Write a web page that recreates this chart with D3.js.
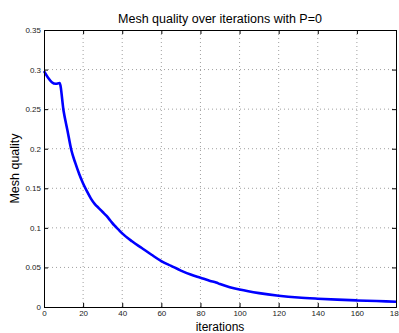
<!DOCTYPE html>
<html>
<head>
<meta charset="utf-8">
<script src="https://cdn.jsdelivr.net/npm/d3@7"></script>
<style>
body{margin:0;background:#fff;}
svg{display:block;font-family:"Liberation Sans",Arial,sans-serif;}
</style>
</head>
<body>
<svg width="399" height="333"></svg>
<script>
// iterations / mesh quality
var iterations=[0,2,4,6,8,10,12,14,16,18,20,22,24,26,28,30,32,34,36,38,40,45,50,55,60,65,70,75,80,85,88,90,95,100,110,120,130,140,150,160,170,180];
var quality=[0.298,0.290,0.284,0.282,0.283,0.248,0.223,0.198,0.182,0.168,0.156,0.146,0.137,0.130,0.125,0.120,0.115,0.109,0.103,0.098,0.093,0.083,0.0745,0.066,0.058,0.052,0.046,0.041,0.037,0.033,0.031,0.029,0.025,0.022,0.0175,0.0143,0.012,0.0105,0.0093,0.0083,0.0075,0.0067];
var xTicks=[0,20,40,60,80,100,120,140,160,180];
var yTicks=[0,0.05,0.1,0.15,0.2,0.25,0.3,0.35];

var svg=d3.select("svg"),
    margin={top:30,right:3,bottom:26,left:44},
    width=+svg.attr("width")-margin.left-margin.right,
    height=+svg.attr("height")-margin.top-margin.bottom;

var x=d3.scaleLinear().domain([0,180]).range([0,width]);
var y=d3.scaleLinear().domain([0,0.35]).range([height,0]);

var g=svg.append("g").attr("transform","translate("+margin.left+","+margin.top+")");

//网格
g.selectAll(".gx").data(xTicks.slice(1,-1)).enter().append("line")
  .attr("x1",function(d){return x(d);}).attr("x2",function(d){return x(d);})
  .attr("y1",0).attr("y2",height)
  .attr("stroke","#888").attr("stroke-width",0.8).attr("stroke-dasharray","1,3");
g.selectAll(".gy").data(yTicks.slice(1,-1)).enter().append("line")
  .attr("y1",function(d){return y(d);}).attr("y2",function(d){return y(d);})
  .attr("x1",0).attr("x2",width)
  .attr("stroke","#888").attr("stroke-width",0.8).attr("stroke-dasharray","1,3");

//曲线
var line=d3.line()
  .x(function(d,i){return x(iterations[i]);})
  .y(function(d){return y(d);})
  .curve(d3.curveMonotoneX);
g.append("path").datum(quality)
  .attr("fill","none").attr("stroke","#0000ff").attr("stroke-width",2.6)
  .attr("stroke-linejoin","round").attr("d",line);

//坐标轴
var xa=g.append("g").attr("transform","translate(0,"+height+")")
  .call(d3.axisBottom(x).tickValues(xTicks).tickSize(-4).tickPadding(3.5).tickFormat(d3.format("d")));
var ya=g.append("g")
  .call(d3.axisLeft(y).tickValues(yTicks).tickSize(-4).tickPadding(3).tickFormat(function(d){return d===0?"0":String(+d.toFixed(2));}));
g.append("g").call(d3.axisTop(x).tickValues(xTicks).tickSize(-4).tickFormat(""));
g.append("g").attr("transform","translate("+width+",0)")
  .call(d3.axisRight(y).tickValues(yTicks).tickSize(-4).tickFormat(""));
g.selectAll(".domain").attr("stroke","#000").attr("stroke-width",1);
g.selectAll(".tick line").attr("stroke","#000");
g.selectAll(".tick text").attr("font-size","8px").attr("fill","#222").attr("font-family","'Liberation Sans',Arial,sans-serif");

//标题
svg.append("text").attr("x",margin.left+width/2).attr("y",23)
  .attr("text-anchor","middle").attr("font-size","12.5px").text("Mesh quality over iterations with P=0");
svg.append("text").attr("x",margin.left+width/2).attr("y",330.5)
  .attr("text-anchor","middle").attr("font-size","12px").text("iterations");
svg.append("text").attr("transform","translate(19,"+(margin.top+height/2)+") rotate(-90)")
  .attr("text-anchor","middle").attr("font-size","12.5px").text("Mesh quality");
</script>
</body>
</html>
